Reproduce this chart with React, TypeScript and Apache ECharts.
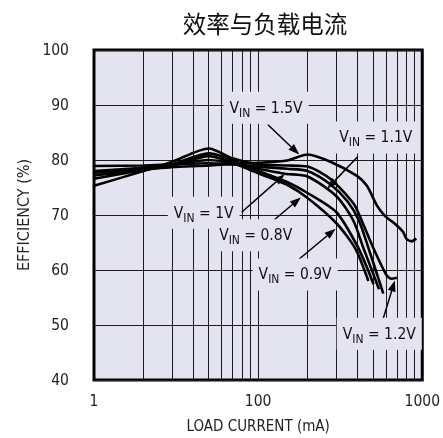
import React, { useEffect, useRef } from 'react';
import * as echarts from 'echarts';

const TITLE = '效率与负载电流';
const X_NAME = 'LOAD CURRENT (mA)';
const Y_NAME = 'EFFICIENCY (%)';
const X_MIN = 10;
const X_MAX = 1000;
const Y_MIN = 40;
const Y_MAX = 100;
const Y_STEP = 10;
const X_GRID = [20, 30, 40, 50, 60, 70, 80, 90, 100, 200, 300, 400, 500, 600, 700, 800, 900];
const X_TICK_TEXT: Record<number, string> = { 10: '1', 100: '100', 1000: '1000' };

// load current (mA), efficiency (%)
const VIN_15 = [[10, 77.7], [20, 78.3], [30, 78.7], [50, 79.0], [70, 79.3], [100, 79.5], [150, 79.9], [200, 81.0], [280, 79.6], [400, 77.1], [460, 75.3], [530, 71.7], [590, 69.9], [700, 68.1], [765, 66.9], [800, 65.7], [860, 65.2], [920, 65.7]];
const VIN_12 = [[10, 75.3], [20, 78.0], [30, 79.7], [50, 82.1], [70, 80.3], [100, 79.2], [150, 79.0], [200, 78.8], [277, 76.5], [383, 72.0], [440, 68.1], [505, 63.9], [607, 59.0], [650, 58.4], [700, 58.6]];
const VIN_11 = [[10, 78.9], [20, 79.0], [30, 79.2], [50, 79.4], [100, 78.8], [150, 78.4], [200, 78.0], [275, 75.6], [350, 72.5], [411, 69.0], [471, 63.9], [520, 60.0], [579, 55.7]];
const VIN_10 = [[10, 78.0], [20, 78.6], [30, 79.1], [50, 80.0], [100, 78.4], [145, 77.5], [200, 77.0], [300, 73.4], [380, 69.0], [439, 63.9], [500, 59.5], [545, 56.5]];
const VIN_09 = [[10, 76.6], [20, 78.2], [30, 79.2], [50, 81.2], [100, 78.0], [150, 76.0], [200, 74.0], [300, 70.5], [400, 64.5], [460, 60.5], [505, 57.4]];
const VIN_08 = [[10, 77.2], [20, 78.2], [30, 79.0], [50, 80.7], [100, 77.6], [150, 75.5], [200, 73.1], [300, 68.5], [391, 63.9], [470, 58.0]];

const CURVES = [
  { name: '1.5V', data: VIN_15 },
  { name: '1.2V', data: VIN_12 },
  { name: '1.1V', data: VIN_11 },
  { name: '1V', data: VIN_10 },
  { name: '0.9V', data: VIN_09 },
  { name: '0.8V', data: VIN_08 },
];

// annotation: label centre, arrow start, arrow tip (data units)
const NOTES = [
  { text: '1.5V', at: [111.7, 89.5], from: [114.8, 86.4], to: [178, 81.0] },
  { text: '1.1V', at: [521, 84.1], from: [404, 80.6], to: [264, 74.8] },
  { text: '1V', at: [46.6, 70.4], from: [79.3, 70.5], to: [145, 77.4] },
  { text: '0.8V', at: [96.6, 66.3], from: [117.5, 68.4], to: [182, 73.2] },
  { text: '0.9V', at: [168, 59.2], from: [178, 62.0], to: [296.5, 67.5] },
  { text: '1.2V', at: [547, 48.4], from: [566, 50.3], to: [681, 58.1] },
];

const BG = '#e4e4f0';
const INK = '#000';
const GRIDC = '#1c1c1c';
const FONT = "'Liberation Sans Narrow', 'DejaVu Sans Condensed', 'Liberation Sans', sans-serif";

export default function App() {
  const ref = useRef<HTMLDivElement>(null);
  useEffect(() => {
    if (!ref.current) return;
    const chart = echarts.init(ref.current, null, { renderer: 'svg' });
    chart.setOption({
      animation: false,
      title: {
        text: TITLE,
        left: 260,
        top: 6,
        textAlign: 'center',
        textStyle: { fontFamily: "'Noto Sans CJK SC', sans-serif", fontSize: 23.5, fontWeight: 'normal', color: '#111' },
      },
      grid: {
        left: 94, right: 17, top: 50, bottom: 56,
        show: true, backgroundColor: BG, borderColor: INK, borderWidth: 3,
      },
      xAxis: {
        type: 'log', logBase: 10, min: X_MIN, max: X_MAX,
        name: X_NAME, nameLocation: 'middle', nameGap: 38,
        nameTextStyle: { fontFamily: FONT, fontSize: 15, color: '#222' },
        axisLine: { show: false }, axisTick: { show: false }, splitLine: { show: false },
        axisLabel: {
          margin: 13, fontFamily: FONT, fontSize: 15.5, color: '#222',
          formatter: (v: number) => X_TICK_TEXT[Math.round(v)] ?? '',
        },
      },
      yAxis: {
        type: 'value', min: Y_MIN, max: Y_MAX, interval: Y_STEP,
        name: Y_NAME, nameLocation: 'middle', nameGap: 58, nameRotate: 90,
        nameTextStyle: { fontFamily: FONT, fontSize: 16, color: '#222' },
        axisLine: { show: false }, axisTick: { show: false },
        splitLine: { lineStyle: { color: GRIDC, width: 1 } },
        axisLabel: { margin: 25, fontFamily: FONT, fontSize: 15.5, color: '#222' },
      },
      series: [
        {
          type: 'line', data: [], silent: true, z: 1,
          markLine: {
            silent: true, z: 1, symbol: ['none', 'none'], label: { show: false },
            lineStyle: { color: GRIDC, width: 1, type: 'solid' },
            emphasis: { disabled: true },
            data: X_GRID.map((x) => ({ xAxis: x })),
          },
        },
        ...CURVES.map((c) => ({
          type: 'line', name: c.name, data: c.data, showSymbol: false, smooth: 0.25,
          silent: true, z: 3,
          lineStyle: { color: INK, width: 2.6 },
        })),
      ],
    });

    const px = (p: number[]) => chart.convertToPixel({ xAxisIndex: 0, yAxisIndex: 0 }, p) as number[];
    const graphics: any[] = [];
    NOTES.forEach((n) => {
      const c = px(n.at);
      const a = px(n.from);
      const b = px(n.to);
      const dx = b[0] - a[0];
      const dy = b[1] - a[1];
      const len = Math.hypot(dx, dy) || 1;
      const ux = dx / len, uy = dy / len;
      const nx = -uy, ny = ux;
      const hl = 11, hw = 4;
      const bx = b[0] - ux * hl, by = b[1] - uy * hl;
      graphics.push({
        type: 'line', z: 20,
        shape: { x1: a[0], y1: a[1], x2: bx, y2: by },
        style: { stroke: INK, lineWidth: 1.5 },
      });
      graphics.push({
        type: 'polygon', z: 20,
        shape: { points: [[b[0], b[1]], [bx + nx * hw, by + ny * hw], [bx - nx * hw, by - ny * hw]] },
        style: { fill: INK },
      });
      graphics.push({
        type: 'text', z: 21, x: c[0], y: c[1],
        style: {
          text: `{v|V}{s|IN}{v| = ${n.text}}`,
          align: 'center', verticalAlign: 'middle',
          backgroundColor: BG, padding: [5, 6],
          rich: {
            v: { fontFamily: FONT, fontSize: 15.5, lineHeight: 22, fill: '#111', color: '#111' },
            s: { fontFamily: FONT, fontSize: 12, lineHeight: 12, verticalAlign: 'bottom', fill: '#111', color: '#111' },
          },
        },
      });
    });
    chart.setOption({ graphic: graphics });
    return () => chart.dispose();
  }, []);
  return <div ref={ref} style={{ position: 'fixed', left: 0, top: 0, width: 443, height: 438 }} />;
}
